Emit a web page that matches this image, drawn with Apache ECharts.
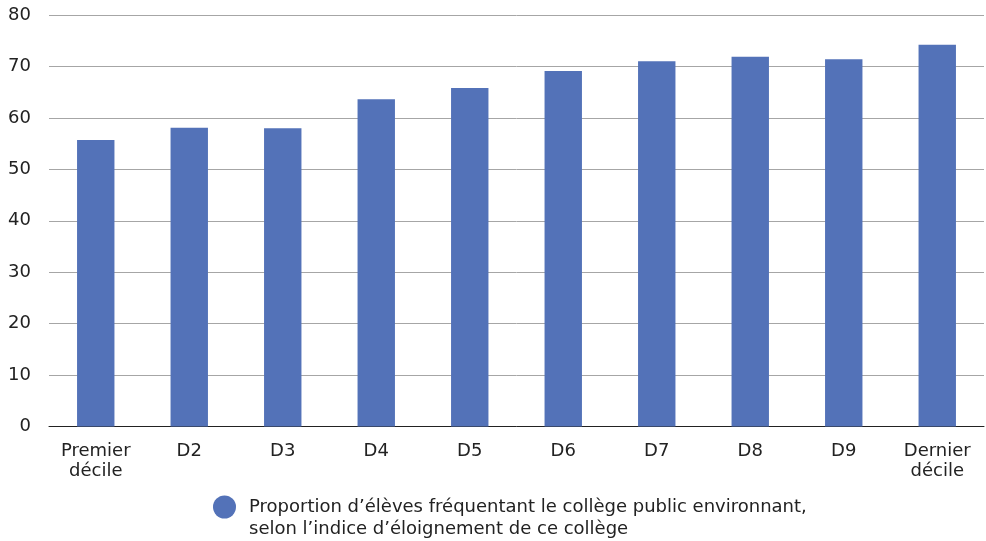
<!DOCTYPE html>
<html>
<head>
<meta charset="utf-8">
<script src="https://cdn.jsdelivr.net/npm/echarts@6/dist/echarts.min.js"></script>
<style>
html,body{margin:0;padding:0;background:#fff;}
#c{width:986px;height:541px;}
</style>
</head>
<body>
<div id="c"></div>
<script>
const categories = ['Premier\ndécile','D2','D3','D4','D5','D6','D7','D8','D9','Dernier\ndécile'];
const values = [55.7, 58.1, 58.0, 63.6, 65.8, 69.1, 71.0, 71.9, 71.4, 74.2];
const seriesName = 'Proportion d\u2019élèves fréquentant le collège public environnant,\nselon l\u2019indice d\u2019éloignement de ce collège';

const FONT = 'DejaVu Sans';
const FS = 18;
const chart = echarts.init(document.getElementById('c'));
chart.setOption({
  animation: false,
  textStyle: {fontFamily: FONT},
  grid: {left: 49, right: 2, top: 15, bottom: 114.5, containLabel: false},
  legend: {
    left: 213, top: 474, padding: 0,
    icon: 'circle', itemWidth: 23, itemHeight: 23,
    itemGap: 0,
    formatter: function (n) { return ' \n' + n; },
    textStyle: {fontFamily: FONT, fontSize: FS, color: '#222', lineHeight: 22, padding: [0,0,0,8]},
    data: [seriesName]
  },
  xAxis: {
    type: 'category',
    data: categories,
    axisLine: {lineStyle: {color: '#222', width: 1}},
    axisTick: {show: false},
    axisLabel: {fontFamily: FONT, fontSize: FS, color: '#222', lineHeight: 20, margin: 15, interval: 0}
  },
  yAxis: {
    type: 'value', min: 0, max: 80, interval: 10,
    axisLine: {show: false},
    axisTick: {show: false},
    axisLabel: {fontFamily: FONT, fontSize: FS, color: '#222', margin: 18},
    splitLine: {lineStyle: {color: '#a6a6a6', width: 1}}
  },
  series: [{
    name: seriesName,
    type: 'bar',
    data: values,
    barWidth: '40%',
    itemStyle: {color: '#5372b8'}
  }]
});
</script>
</body>
</html>
